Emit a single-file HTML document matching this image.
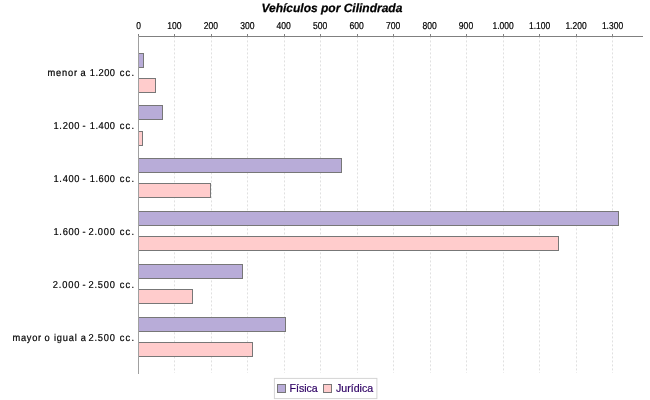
<!DOCTYPE html>
<html><head><meta charset="utf-8"><title>Vehículos por Cilindrada</title>
<style>
html,body{margin:0;padding:0;background:#fff}
svg{display:block;will-change:transform;opacity:.999}
text{font-family:"Liberation Sans",sans-serif;text-rendering:geometricPrecision}
.t{font-size:10px;fill:#000;stroke:#000;stroke-width:.22px}
.c{font-size:10px;fill:#000;stroke:#000;stroke-width:.2px}
.l{font-size:10.6px;fill:#2e0064;text-rendering:auto;stroke:#2e0064;stroke-width:.2px}
</style></head><body>
<svg width="650" height="400" viewBox="0 0 650 400">
<rect width="650" height="400" fill="#fff"/>
<text x="331.9" y="11.5" text-anchor="middle" font-size="12" font-weight="bold" font-style="italic" fill="#000" stroke="#000" stroke-width=".25">Vehículos por Cilindrada</text>
<g stroke="#c0c0c0" stroke-width="0.5" stroke-dasharray="2 2">
<line x1="174.50" y1="36.4" x2="174.50" y2="373"/>
<line x1="211.50" y1="36.4" x2="211.50" y2="373"/>
<line x1="247.50" y1="36.4" x2="247.50" y2="373"/>
<line x1="284.50" y1="36.4" x2="284.50" y2="373"/>
<line x1="320.50" y1="36.4" x2="320.50" y2="373"/>
<line x1="357.50" y1="36.4" x2="357.50" y2="373"/>
<line x1="393.50" y1="36.4" x2="393.50" y2="373"/>
<line x1="430.50" y1="36.4" x2="430.50" y2="373"/>
<line x1="466.50" y1="36.4" x2="466.50" y2="373"/>
<line x1="503.50" y1="36.4" x2="503.50" y2="373"/>
<line x1="539.50" y1="36.4" x2="539.50" y2="373"/>
<line x1="576.50" y1="36.4" x2="576.50" y2="373"/>
<line x1="612.50" y1="36.4" x2="612.50" y2="373"/>
</g>
<g stroke="#777" stroke-width="1" shape-rendering="crispEdges">
<rect x="138.5" y="53.5" width="5" height="14" fill="#b8acd8"/>
<rect x="138.5" y="78.5" width="17" height="14" fill="#ffcccc"/>
<rect x="138.5" y="105.5" width="24" height="14" fill="#b8acd8"/>
<rect x="138.5" y="131.5" width="4" height="14" fill="#ffcccc"/>
<rect x="138.5" y="158.5" width="203" height="14" fill="#b8acd8"/>
<rect x="138.5" y="183.5" width="72" height="14" fill="#ffcccc"/>
<rect x="138.5" y="211.5" width="480" height="14" fill="#b8acd8"/>
<rect x="138.5" y="236.5" width="420" height="14" fill="#ffcccc"/>
<rect x="138.5" y="264.5" width="104" height="14" fill="#b8acd8"/>
<rect x="138.5" y="289.5" width="54" height="14" fill="#ffcccc"/>
<rect x="138.5" y="317.5" width="147" height="14" fill="#b8acd8"/>
<rect x="138.5" y="342.5" width="114" height="14" fill="#ffcccc"/>
</g>
<g stroke="#808080" stroke-width="1" shape-rendering="crispEdges">
<line x1="138" y1="36.5" x2="643" y2="36.5"/>
<line x1="138.5" y1="36" x2="138.5" y2="374" stroke="#a0a0a0"/>
<line x1="138.5" y1="34" x2="138.5" y2="36"/>
<line x1="174.5" y1="34" x2="174.5" y2="36"/>
<line x1="211.5" y1="34" x2="211.5" y2="36"/>
<line x1="247.5" y1="34" x2="247.5" y2="36"/>
<line x1="284.5" y1="34" x2="284.5" y2="36"/>
<line x1="320.5" y1="34" x2="320.5" y2="36"/>
<line x1="357.5" y1="34" x2="357.5" y2="36"/>
<line x1="393.5" y1="34" x2="393.5" y2="36"/>
<line x1="430.5" y1="34" x2="430.5" y2="36"/>
<line x1="466.5" y1="34" x2="466.5" y2="36"/>
<line x1="503.5" y1="34" x2="503.5" y2="36"/>
<line x1="539.5" y1="34" x2="539.5" y2="36"/>
<line x1="576.5" y1="34" x2="576.5" y2="36"/>
<line x1="612.5" y1="34" x2="612.5" y2="36"/>
</g>
<text class="t" x="138.5" y="29" text-anchor="middle" textLength="4.7" lengthAdjust="spacingAndGlyphs">0</text>
<text class="t" x="174.4" y="29" text-anchor="middle" textLength="14.3" lengthAdjust="spacingAndGlyphs">100</text>
<text class="t" x="210.8" y="29" text-anchor="middle" textLength="14.3" lengthAdjust="spacingAndGlyphs">200</text>
<text class="t" x="247.3" y="29" text-anchor="middle" textLength="14.3" lengthAdjust="spacingAndGlyphs">300</text>
<text class="t" x="283.7" y="29" text-anchor="middle" textLength="14.3" lengthAdjust="spacingAndGlyphs">400</text>
<text class="t" x="320.2" y="29" text-anchor="middle" textLength="14.3" lengthAdjust="spacingAndGlyphs">500</text>
<text class="t" x="356.7" y="29" text-anchor="middle" textLength="14.3" lengthAdjust="spacingAndGlyphs">600</text>
<text class="t" x="393.1" y="29" text-anchor="middle" textLength="14.3" lengthAdjust="spacingAndGlyphs">700</text>
<text class="t" x="429.6" y="29" text-anchor="middle" textLength="14.3" lengthAdjust="spacingAndGlyphs">800</text>
<text class="t" x="466.0" y="29" text-anchor="middle" textLength="14.3" lengthAdjust="spacingAndGlyphs">900</text>
<text class="t" x="503.1" y="29" text-anchor="middle" textLength="21.2" lengthAdjust="spacingAndGlyphs">1.000</text>
<text class="t" x="539.6" y="29" text-anchor="middle" textLength="21.2" lengthAdjust="spacingAndGlyphs">1.100</text>
<text class="t" x="576.0" y="29" text-anchor="middle" textLength="21.2" lengthAdjust="spacingAndGlyphs">1.200</text>
<text class="t" x="612.5" y="29" text-anchor="middle" textLength="21.2" lengthAdjust="spacingAndGlyphs">1.300</text>
<text class="c" transform="matrix(.93,0,0,1,47.43,76)" textLength="31.82" lengthAdjust="spacing">menor</text>
<text class="c" transform="matrix(.93,0,0,1,80.44,76)">a</text>
<text class="c" transform="matrix(.93,0,0,1,89.73,76)" textLength="27.21" lengthAdjust="spacing">1.200</text>
<text class="c" transform="matrix(.93,0,0,1,119.65,76)" textLength="15.60" lengthAdjust="spacing">cc.</text>
<text class="c" transform="matrix(.93,0,0,1,53.50,129)" textLength="28.01" lengthAdjust="spacing">1.200</text>
<text class="c" transform="matrix(.93,0,0,1,82.47,129)">-</text>
<text class="c" transform="matrix(.93,0,0,1,89.73,129)" textLength="27.21" lengthAdjust="spacing">1.400</text>
<text class="c" transform="matrix(.93,0,0,1,119.65,129)" textLength="15.60" lengthAdjust="spacing">cc.</text>
<text class="c" transform="matrix(.93,0,0,1,53.50,182)" textLength="28.01" lengthAdjust="spacing">1.400</text>
<text class="c" transform="matrix(.93,0,0,1,82.47,182)">-</text>
<text class="c" transform="matrix(.93,0,0,1,89.73,182)" textLength="27.21" lengthAdjust="spacing">1.600</text>
<text class="c" transform="matrix(.93,0,0,1,119.65,182)" textLength="15.60" lengthAdjust="spacing">cc.</text>
<text class="c" transform="matrix(.93,0,0,1,53.50,235)" textLength="28.01" lengthAdjust="spacing">1.600</text>
<text class="c" transform="matrix(.93,0,0,1,82.47,235)">-</text>
<text class="c" transform="matrix(.93,0,0,1,88.50,235)" textLength="28.53" lengthAdjust="spacing">2.000</text>
<text class="c" transform="matrix(.93,0,0,1,119.65,235)" textLength="15.60" lengthAdjust="spacing">cc.</text>
<text class="c" transform="matrix(.93,0,0,1,52.76,288)" textLength="28.80" lengthAdjust="spacing">2.000</text>
<text class="c" transform="matrix(.93,0,0,1,82.47,288)">-</text>
<text class="c" transform="matrix(.93,0,0,1,88.50,288)" textLength="28.53" lengthAdjust="spacing">2.500</text>
<text class="c" transform="matrix(.93,0,0,1,119.65,288)" textLength="15.60" lengthAdjust="spacing">cc.</text>
<text class="c" transform="matrix(.93,0,0,1,12.46,341)" textLength="30.87" lengthAdjust="spacing">mayor</text>
<text class="c" transform="matrix(.93,0,0,1,44.44,341)">o</text>
<text class="c" transform="matrix(.93,0,0,1,53.98,341)" textLength="24.68" lengthAdjust="spacing">igual</text>
<text class="c" transform="matrix(.93,0,0,1,80.66,341)">a</text>
<text class="c" transform="matrix(.93,0,0,1,88.50,341)" textLength="28.53" lengthAdjust="spacing">2.500</text>
<text class="c" transform="matrix(.93,0,0,1,119.65,341)" textLength="15.60" lengthAdjust="spacing">cc.</text>
<rect x="274.4" y="378.4" width="102.5" height="20.2" fill="#fff" stroke="#d4d4d4"/>
<rect x="277.5" y="384.5" width="8" height="8" fill="#b8acd8" stroke="#777" shape-rendering="crispEdges"/>
<rect x="323.5" y="384.5" width="8" height="8" fill="#ffcccc" stroke="#777" shape-rendering="crispEdges"/>
<text class="l" x="289.5" y="392">Física</text>
<text class="l" x="336" y="392">Jurídica</text>
</svg>
</body></html>
